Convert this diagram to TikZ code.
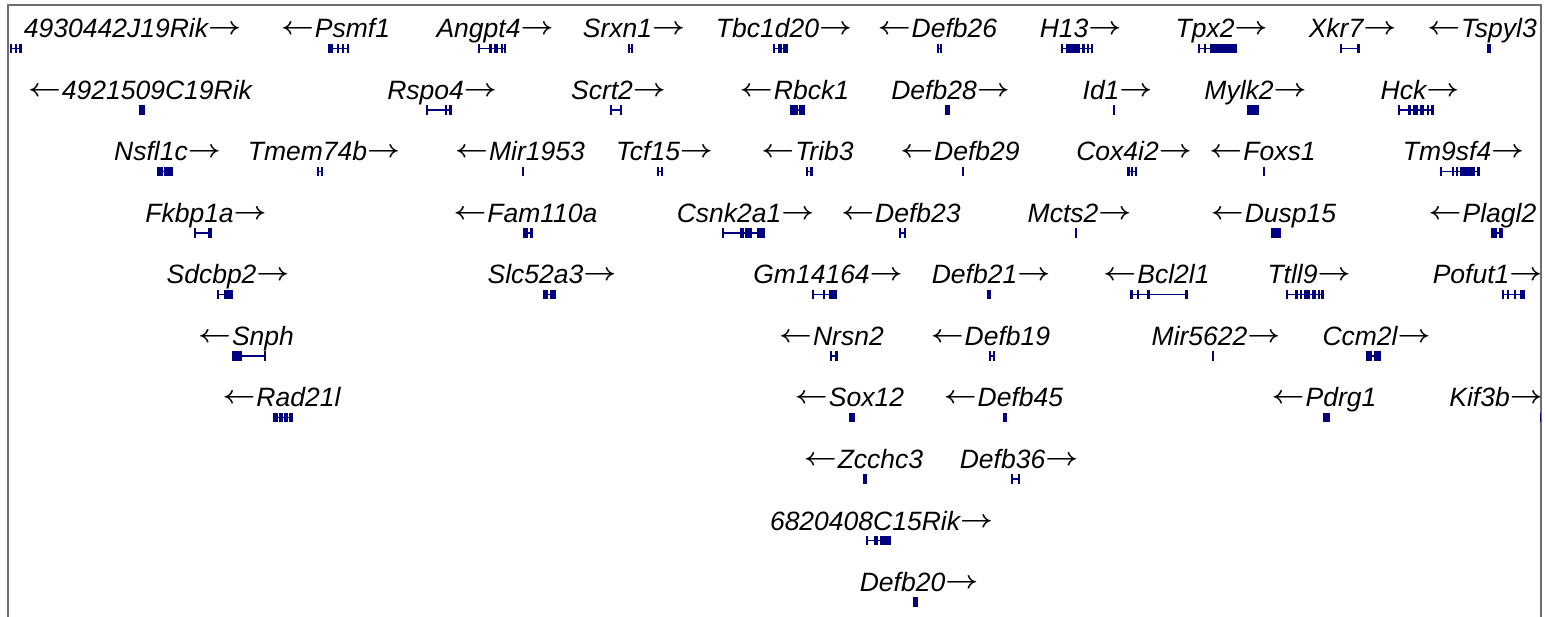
\documentclass[tikz,border=0pt]{standalone}
\usepackage{fontspec}
\setmainfont{Liberation Sans}
\definecolor{gm}{RGB}{0,0,128}
\definecolor{frm}{RGB}{110,110,110}
\newcommand\gR{{\upshape\raisebox{3pt}{\scalebox{1.15}[1]{\boldmath$\rightarrow$}}}}
\newcommand\gL{{\upshape\raisebox{3pt}{\scalebox{1.15}[1]{\boldmath$\leftarrow$}}}\hspace{1pt}}
\newcommand\gmod[4]{%
  \draw[gm, line width=1.6pt] (#2,#1) -- (#3,#1);
  \foreach \a/\b in {#4} {\fill[gm] (\a,#1-4.75) rectangle (\b,#1+4.75);}%
}
\tikzset{lab/.style={anchor=base, inner sep=0pt, font=\fontsize{26.5}{30}\selectfont\itshape}}
\begin{document}
\begin{tikzpicture}[x=1pt,y=-1pt]
\useasboundingbox (0,0) rectangle (1545,617);
\draw[frm, line width=2pt] (8,617) -- (8,5) -- (1541,5) -- (1541,617);
% row 1
\node[lab] (a1) at (132.5,38) {4930442J19Rik\gR};
\node[lab] (a2) at (335.5,38) {\gL Psmf1};
\node[lab] (a3) at (495,38) {Angpt4\gR};
\node[lab] (a4) at (634,38) {Srxn1\gR};
\node[lab] (a5) at (784,38) {Tbc1d20\gR};
\node[lab] (a6) at (937.5,38) {\gL Defb26};
\node[lab] (a7) at (1080.5,38) {H13\gR};
\node[lab] (a8) at (1221.5,38) {Tpx2\gR};
\node[lab] (a9) at (1352.5,38) {Xkr7\gR};
\node[lab] (a10) at (1482,38) {\gL Tspyl3};
\gmod{48.5}{10}{22}{10/12,15/17,19/22}
\gmod{48.5}{328}{349}{328/333,337/339,342/344,347/349}
\gmod{48.5}{478}{506}{478/480,489/492,494/498,501/503,504/506}
\gmod{48.5}{628}{633}{628/629.7,631.3/633}
\gmod{48.5}{773}{788}{773/775,778/782,783/788}
\gmod{48.5}{937}{942}{937/938.7,940.3/942}
\gmod{48.5}{1061}{1093}{1061/1063,1066/1080,1082/1085,1087/1089,1091/1093}
\gmod{48.5}{1198}{1237}{1198/1200,1204/1206,1210/1237}
\gmod{48.5}{1340}{1360}{1340/1342,1357/1360}
\gmod{48.5}{1487}{1491}{1487/1491}
% row 2
\node[lab] (b1) at (140,99.5) {\gL 4921509C19Rik};
\node[lab] (b2) at (442,99.5) {Rspo4\gR};
\node[lab] (b3) at (618.5,99.5) {Scrt2\gR};
\node[lab] (b4) at (794.5,99.5) {\gL Rbck1};
\node[lab] (b5) at (950.5,99.5) {Defb28\gR};
\node[lab] (b6) at (1117.5,99.5) {Id1\gR};
\node[lab] (b7) at (1255.5,99.5) {Mylk2\gR};
\node[lab] (b8) at (1420,99.5) {Hck\gR};
\gmod{110}{139}{145}{139/145}
\gmod{110}{426}{452}{426/428,445/447,449/452}
\gmod{110}{610}{622}{610/612,620/622}
\gmod{110}{790}{805}{790/798,799/805}
\gmod{110}{945}{950}{945/950}
\gmod{110}{1113}{1115}{1113/1115}
\gmod{110}{1247}{1259}{1247/1259}
\gmod{110}{1398}{1434}{1398/1400,1408/1411,1413/1418,1420/1424,1427/1429,1431/1434}
% row 3
\node[lab] (c1) at (167.5,161) {Nsfl1c\gR};
\node[lab] (c2) at (324,161) {Tmem74b\gR};
\node[lab] (c3) at (520,161) {\gL Mir1953};
\node[lab] (c4) at (664.5,161) {Tcf15\gR};
\node[lab] (c5) at (807.5,161) {\gL Trib3};
\node[lab] (c6) at (960,161) {\gL Defb29};
\node[lab] (c7) at (1134,161) {Cox4i2\gR};
\node[lab] (c8) at (1262.5,161) {\gL Foxs1};
\node[lab] (c9) at (1463.5,161) {Tm9sf4\gR};
\gmod{171.5}{157}{173}{157/163,164/173}
\gmod{171.5}{317}{323}{317/318.7,321.3/323}
\gmod{171.5}{522}{524}{522/524}
\gmod{171.5}{657}{663}{657/659,661/663}
\gmod{171.5}{806}{813}{806/808,809.5/813}
\gmod{171.5}{962}{964}{962/964}
\gmod{171.5}{1127}{1137}{1127/1130,1131/1133,1135/1137}
\gmod{171.5}{1263}{1265}{1263/1265}
\gmod{171.5}{1440}{1480}{1440/1442,1452/1454,1456/1458,1460/1475,1477/1480}
% row 4
\node[lab] (d1) at (206,222.5) {Fkbp1a\gR};
\node[lab] (d2) at (525.5,222.5) {\gL Fam110a};
\node[lab] (d3) at (745.5,222.5) {Csnk2a1\gR};
\node[lab] (d4) at (901,222.5) {\gL Defb23};
\node[lab] (d5) at (1079.5,222.5) {Mcts2\gR};
\node[lab] (d6) at (1273.5,222.5) {\gL Dusp15};
\node[lab] (d7) at (1482.5,222.5) {\gL Plagl2};
\gmod{233}{194}{212}{194/196,208/212}
\gmod{233}{523}{533}{523/528,530/533}
\gmod{233}{722}{765}{722/724,740/744,745/752,757/765}
\gmod{233}{899}{906}{899/901,904/906}
\gmod{233}{1075}{1077}{1075/1077}
\gmod{233}{1271}{1281}{1271/1281}
\gmod{233}{1491}{1503}{1491/1497,1499/1503}
% row 5
\node[lab] (e1) at (228,284) {Sdcbp2\gR};
\node[lab] (e2) at (552,284) {Slc52a3\gR};
\node[lab] (e3) at (828,284) {Gm14164\gR};
\node[lab] (e4) at (991,284) {Defb21\gR};
\node[lab] (e5) at (1156.5,284) {\gL Bcl2l1};
\node[lab] (e6) at (1309,284) {Ttll9\gR};
\node[lab] (e7) at (1487.5,284) {Pofut1\gR};
\gmod{294.5}{217}{233}{217/219,224/233}
\gmod{294.5}{543}{556}{543/548,550/556}
\gmod{294.5}{812}{837}{812/814,823/825,829/837}
\gmod{294.5}{987}{991}{987/991}
\gmod{294.5}{1130}{1188}{1130/1133,1137/1139,1147/1150,1185/1188}
\gmod{294.5}{1286}{1324}{1286/1288,1295/1298,1300/1302,1304/1310,1312/1316,1318/1320,1321/1324}
\gmod{294.5}{1502}{1525}{1502/1504,1507/1509,1514/1516,1520/1525}
% row 6
\node[lab] (f1) at (246,345.5) {\gL Snph};
\node[lab] (f2) at (831.5,345.5) {\gL Nrsn2};
\node[lab] (f3) at (990.5,345.5) {\gL Defb19};
\node[lab] (f4) at (1216,345.5) {Mir5622\gR};
\node[lab] (f5) at (1376.5,345.5) {Ccm2l\gR};
\gmod{356}{232}{266}{232/242,264/266}
\gmod{356}{830}{838}{830/832,835/838}
\gmod{356}{989}{995}{989/991,993/995}
\gmod{356}{1212}{1213.5}{1212/1213.5}
\gmod{356}{1366}{1381}{1366/1372,1374/1381}
% row 7
\node[lab] (g1) at (281.5,407) {\gL Rad21l};
\node[lab] (g2) at (849.5,407) {\gL Sox12};
\node[lab] (g3) at (1003.5,407) {\gL Defb45};
\node[lab] (g4) at (1324,407) {\gL Pdrg1};
\node[lab] (g5) at (1496,407) {Kif3b\gR};
\gmod{417.5}{273}{293}{273/278,279/283,284/288,289/293}
\gmod{417.5}{849}{855}{849/855}
\gmod{417.5}{1003}{1007}{1003/1007}
\gmod{417.5}{1323}{1330}{1323/1330}
\gmod{417.5}{1539.5}{1541}{1539.5/1541}
% row 8
\node[lab] (h1) at (863.5,468.5) {\gL Zcchc3};
\node[lab] (h2) at (1019,468.5) {Defb36\gR};
\gmod{479}{863}{867}{863/867}
\gmod{479}{1011}{1020}{1011/1013,1018/1020}
% row 9
\node[lab] (i1) at (881.5,530) {6820408C15Rik\gR};
\gmod{540.5}{866}{891}{866/868,874/878,880/891}
% row 10
\node[lab] (j1) at (919,591.5) {Defb20\gR};
\gmod{602}{913}{918}{913/918}
\end{tikzpicture}
\end{document}
